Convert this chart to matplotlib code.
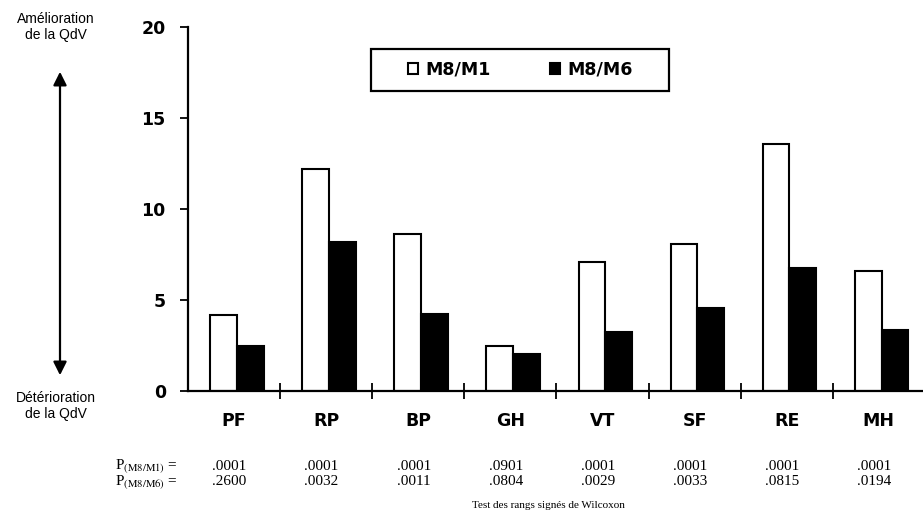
import matplotlib
matplotlib.use("Agg")
import matplotlib.pyplot as plt
from matplotlib.patches import Rectangle, FancyArrowPatch
import numpy as np

# SF-36 domains and mean score changes
categories = ["PF", "RP", "BP", "GH", "VT", "SF", "RE", "MH"]
m8_m1 = [4.15, 12.2, 8.65, 2.5, 7.1, 8.05, 13.55, 6.6]
m8_m6 = [2.5, 8.2, 4.25, 2.05, 3.25, 4.55, 6.75, 3.35]
p_m8_m1 = [".0001", ".0001", ".0001", ".0901", ".0001", ".0001", ".0001", ".0001"]
p_m8_m6 = [".2600", ".0032", ".0011", ".0804", ".0029", ".0033", ".0815", ".0194"]
y_ticks = [0, 5, 10, 15, 20]
series_names = ["M8/M1", "M8/M6"]

plt.rcParams["mathtext.fontset"] = "stix"

fig = plt.figure(figsize=(9.23, 5.19), dpi=100)
ax = fig.add_axes([0.2037, 0.2466, 0.7963, 0.7014])

x = np.arange(len(categories)) + 0.5
w = 0.29
ax.bar(x - w / 2 + 0.03, m8_m1, width=w, color="white", edgecolor="black",
       linewidth=1.5, label=series_names[0])
ax.bar(x + w / 2 + 0.03, m8_m6, width=w, color="black", edgecolor="black",
       linewidth=1.5, label=series_names[1])

ax.set_xlim(0, 7.98)
ax.set_ylim(0, 20)
for s in ["top", "right"]:
    ax.spines[s].set_visible(False)
ax.spines["left"].set_linewidth(1.6)
ax.spines["bottom"].set_linewidth(1.6)

ax.set_yticks(y_ticks)
ax.set_yticklabels([str(v) for v in y_ticks], fontsize=12.5, fontweight="bold")
ax.tick_params(axis="y", direction="out", length=6, width=1.3, pad=10)

ax.set_xticks(np.arange(1, len(categories)))
ax.set_xticklabels([])
ax.tick_params(axis="x", direction="inout", length=11, width=1.3)

for xi, c in zip(x, categories):
    ax.text(xi, -1.65, c, ha="center", va="center", fontsize=12.5,
            fontweight="bold")

for xi, p1, p2 in zip(x, p_m8_m1, p_m8_m6):
    ax.text(xi - 0.05, -4.15, p1, ha="center", va="center", fontsize=11,
            family="Liberation Serif")
    ax.text(xi - 0.05, -4.98, p2, ha="center", va="center", fontsize=11,
            family="Liberation Serif")

fig.text(0.193, 1 - 466 / 519, r"P$_{\rm (M8/M1)}$ =", ha="right", va="center",
         fontsize=11, family="Liberation Serif")
fig.text(0.193, 1 - 482 / 519, r"P$_{\rm (M8/M6)}$ =", ha="right", va="center",
         fontsize=11, family="Liberation Serif")
fig.text(548 / 923, 1 - 506 / 519, "Test des rangs signés de Wilcoxon",
         ha="center", va="center", fontsize=8, family="Liberation Serif")

# quality of life direction
fig.text(56 / 923, 1 - 27 / 519, "Amélioration\nde la QdV", ha="center",
         va="center", fontsize=10, family="Liberation Sans", linespacing=1.15)
fig.text(56 / 923, 1 - 406 / 519, "Détérioration\nde la QdV", ha="center",
         va="center", fontsize=10, family="Liberation Sans", linespacing=1.15)
fig.add_artist(FancyArrowPatch(
    (60 / 923, 1 - 378 / 519), (60 / 923, 1 - 69 / 519),
    transform=fig.transFigure, arrowstyle="<|-|>", mutation_scale=20,
    color="black", linewidth=1.6))

# legend box drawn by hand, entries from the bars
ax.add_patch(Rectangle((0.249, 0.824), 0.405, 0.116, transform=ax.transAxes,
                       facecolor="white", edgecolor="black", linewidth=1.6,
                       zorder=4))
leg = ax.legend(loc="center", bbox_to_anchor=(0.452, 0.882), ncol=2,
                frameon=False, handlelength=0.6, handleheight=0.6,
                handletextpad=0.4, columnspacing=3.4, borderaxespad=0,
                prop={"weight": "bold", "size": 12.5})
leg.set_zorder(5)

fig.savefig("out.png", dpi=100)
